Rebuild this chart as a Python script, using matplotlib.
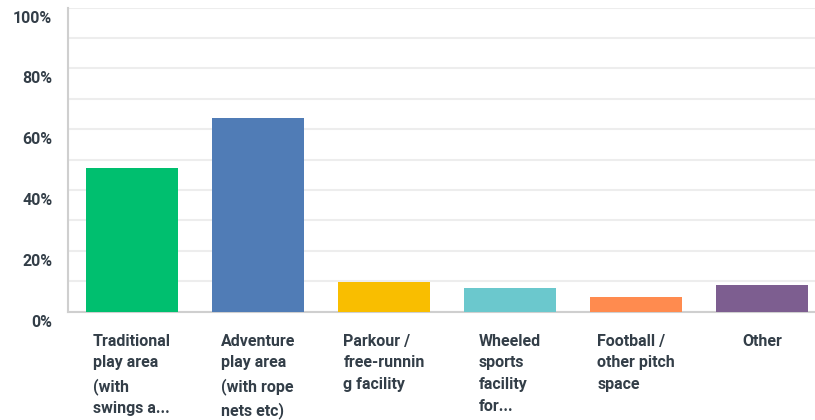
import matplotlib
matplotlib.use('Agg')
import matplotlib.pyplot as plt
from matplotlib.transforms import ScaledTranslation
import numpy as np

categories = ['Traditional\nplay area\n(with\nswings a...',
              'Adventure\nplay area\n(with rope\nnets etc)',
              'Parkour /\nfree-runnin\ng facility',
              'Wheeled\nsports\nfacility\nfor...',
              'Football /\nother pitch\nspace',
              'Other']
values = [47.3, 63.7, 9.8, 7.8, 4.8, 8.8]
colors = ['#00BF6F', '#507CB6', '#F9BE00', '#6BC8CD', '#FF8B4F', '#7D5E90']

text_color = '#333E48'
plt.rcParams['font.family'] = ['Roboto', 'DejaVu Sans']

fig = plt.figure(figsize=(8.15, 4.2), dpi=100)
ax = fig.add_axes([0.083, 0.258, 0.917, 0.7238])

x = np.arange(len(categories))
ax.bar(x, values, width=0.73, color=colors, zorder=3)

ax.set_ylim(0, 100)
ax.set_xlim(-0.51, 5.42)
ax.set_yticks(np.arange(0, 101, 20))
ax.set_yticks(np.arange(0, 101, 10), minor=True)
ax.set_yticklabels(['%d%%' % v for v in range(0, 101, 20)])
ax.grid(axis='y', which='both', color='#EDEDED', linewidth=1.5, zorder=0)
ax.tick_params(axis='y', which='both', length=0, pad=11,
               labelsize=11.5, labelcolor=text_color)
for lab in ax.get_yticklabels():
    lab.set_fontweight('bold')
    lab.set_transform(lab.get_transform() + ScaledTranslation(0, -0.09, fig.dpi_scale_trans))

ax.set_xticks(x)
ax.set_xticklabels(categories, fontsize=11.5, fontweight='bold', color=text_color,
                   multialignment='left', linespacing=1.55, va='top')
ax.tick_params(axis='x', length=0, pad=16)

for s in ['top', 'right']:
    ax.spines[s].set_visible(False)
for s in ['left', 'bottom']:
    ax.spines[s].set_color('#CFCFCF')
    ax.spines[s].set_linewidth(1.5)

fig.savefig('out.png', dpi=100)
